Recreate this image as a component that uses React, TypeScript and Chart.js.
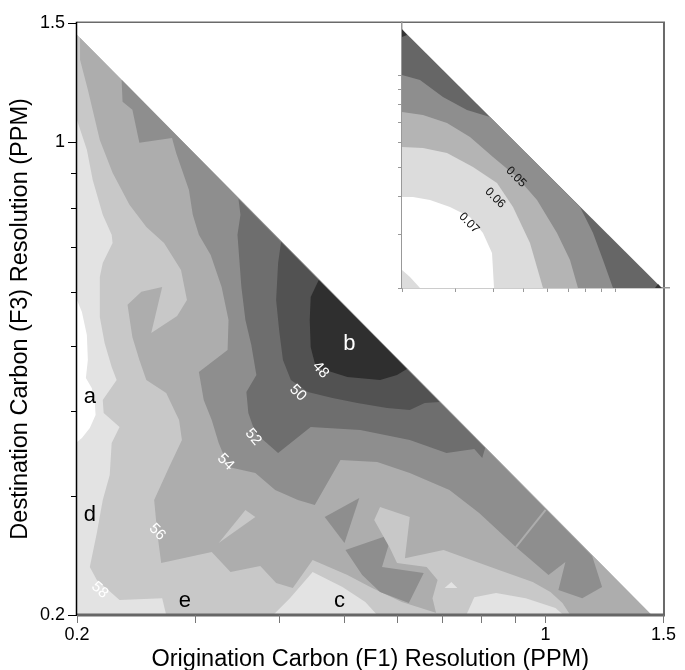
import React, { useEffect, useRef } from "react";
import { Chart, registerables } from "chart.js";

Chart.register(...registerables);

type Pt = [number, number];

const FONT = '"Liberation Sans", Arial, Helvetica, sans-serif';

// ---------- axes ----------
const axisMin = 0.2;
const axisMax = 1.5;
const tickValues = [0.2, 0.3, 0.4, 0.5, 0.6, 0.7, 0.8, 0.9, 1, 1.5];
const labeledTicks = [0.2, 1, 1.5];
const insetTickValues = [0.2, 0.3, 0.4, 0.5, 0.6, 0.7, 0.8, 0.9, 1];
const xTitle = "Origination Carbon (F1) Resolution (PPM)";
const yTitle = "Destination Carbon (F3) Resolution (PPM)";

// ---------- main contour regions (F1, F3 in PPM) ----------
const triangleMain: Pt[] = [[0.2, 0.2], [0.2, 1.44], [1.44, 0.2]];

const above60: Pt[] = [
  [0.2, 0.5843], [0.2034, 0.5609], [0.2069, 0.5187], [0.2076, 0.4764], [0.2062, 0.4479],
  [0.2104, 0.433], [0.2125, 0.4156], [0.2132, 0.3951], [0.209, 0.3779], [0.2034, 0.3652], [0.2, 0.3603],
];

const below58: Pt[] = [
  [0.2, 1.44], [0.2, 1.078], [0.2069, 0.9735], [0.2111, 0.8789], [0.2185, 0.7804], [0.2253, 0.729],
  [0.226, 0.7094], [0.2185, 0.6627], [0.2163, 0.6316], [0.2163, 0.5513], [0.2199, 0.5047], [0.2253, 0.465],
  [0.2292, 0.4449], [0.2185, 0.4156], [0.2192, 0.3978], [0.2315, 0.3791], [0.2253, 0.3591], [0.2238, 0.3221],
  [0.2185, 0.2957], [0.2141, 0.2644], [0.209, 0.2354], [0.2141, 0.2253], [0.2315, 0.2104], [0.268, 0.2118],
  [0.2717, 0.2], [1.44, 0.2],
];

const below56: Pt[] = [
  [0.2021, 1.4251], [0.2021, 1.3223], [0.2076, 1.194], [0.2163, 1.0071], [0.226, 0.9003], [0.2395, 0.8074],
  [0.2538, 0.7488], [0.2697, 0.7094], [0.2859, 0.647], [0.2918, 0.5843], [0.2821, 0.5531], [0.2581, 0.5222],
  [0.268, 0.6106], [0.2495, 0.6005], [0.2379, 0.5745], [0.2419, 0.5149], [0.2478, 0.4764], [0.2538, 0.4449],
  [0.2717, 0.4258], [0.284, 0.3883], [0.2868, 0.3628], [0.2745, 0.3309], [0.2607, 0.2957], [0.2635, 0.2644],
  [0.2671, 0.2387], [0.3177, 0.2478], [0.3389, 0.2315], [0.3754, 0.2362], [0.3964, 0.223], [0.4198, 0.2192],
  [0.4494, 0.2411], [0.5064, 0.2292], [0.5513, 0.2192], [0.6106, 0.209], [0.6879, 0.2014], [0.6995, 0.2],
  [1.44, 0.2],
];

const below54: Pt[] = [
  [0.2331, 1.2353], [0.2339, 1.1463], [0.2419, 1.1154], [0.2478, 0.997], [0.2772, 1.0139], [0.2811, 0.9637],
  [0.2938, 0.8495], [0.2977, 0.7804], [0.304, 0.729], [0.3166, 0.681], [0.3287, 0.6106], [0.3366, 0.5458],
  [0.3355, 0.4928], [0.304, 0.4573], [0.3091, 0.4156], [0.3177, 0.3883], [0.3254, 0.3591], [0.3366, 0.3309],
  [0.3691, 0.3243], [0.3951, 0.306], [0.4272, 0.2957], [0.4527, 0.2908], [0.4945, 0.3389], [0.5609, 0.3366],
  [0.6274, 0.3243], [0.719, 0.306], [0.7963, 0.283], [0.9033, 0.252], [1.0105, 0.2292], [1.0709, 0.2395],
  [1.0455, 0.2177], [1.1347, 0.2118], [1.2147, 0.2199], [1.174, 0.2444],
];

const below52: Pt[] = [
  [0.3483, 0.8239], [0.3507, 0.7804], [0.3471, 0.729], [0.3518, 0.6106], [0.3567, 0.5458], [0.364, 0.5013],
  [0.3704, 0.4527], [0.3579, 0.4272], [0.3603, 0.3978], [0.3691, 0.3716], [0.3991, 0.3471], [0.4464, 0.3791],
  [0.5293, 0.3754], [0.6274, 0.3628], [0.7118, 0.3471], [0.783, 0.3518], [0.8047, 0.3411], [0.8129, 0.353],
];

const below50: Pt[] = [
  [0.4032, 0.7118], [0.3991, 0.6627], [0.3964, 0.5843], [0.4005, 0.5275], [0.4058, 0.4764], [0.417, 0.4449],
  [0.442, 0.4272], [0.4811, 0.4184], [0.524, 0.4115], [0.5804, 0.4045], [0.6274, 0.4018], [0.6604, 0.4115],
  [0.6949, 0.4129],
];

const below48: Pt[] = [
  [0.4589, 0.6254], [0.4464, 0.5901], [0.4449, 0.5458], [0.4464, 0.4978], [0.4542, 0.465], [0.5064, 0.4494],
  [0.5665, 0.4449], [0.6005, 0.4527], [0.6212, 0.4619],
];

const island56a: Pt[] = [[0.3254, 0.2555], [0.3567, 0.2859], [0.3691, 0.2791]];
const island54a: Pt[] = [[0.4684, 0.2791], [0.5275, 0.2977], [0.5013, 0.2555]];
const island54b: Pt[] = [
  [0.503, 0.2495], [0.5901, 0.2635], [0.5703, 0.2354], [0.6582, 0.2308], [0.6254, 0.2083], [0.5665, 0.2163],
  [0.5328, 0.2292],
];
const island56b: Pt[] = [
  [0.5552, 0.2763], [0.5665, 0.2887], [0.6274, 0.2791], [0.617, 0.2427], [0.7046, 0.2495], [0.7619, 0.2427],
  [0.8523, 0.2331], [0.9572, 0.2238], [1.0172, 0.2163], [1.0601, 0.2083], [1.0889, 0.2], [0.6879, 0.2],
  [0.6783, 0.2118], [0.6903, 0.2253], [0.6649, 0.2354], [0.6005, 0.2387], [0.5862, 0.2511],
];
const island58a: Pt[] = [[0.3924, 0.2], [0.4156, 0.2118], [0.4494, 0.2315], [0.4979, 0.2199], [0.5385, 0.209], [0.5609, 0.2]];
const island58b: Pt[] = [[0.7619, 0.2], [0.783, 0.2125], [0.8438, 0.2156], [0.9345, 0.2118], [1.035, 0.2048], [1.0637, 0.2]];
const island58c: Pt[] = [[0.707, 0.2192], [0.7238, 0.2238], [0.7389, 0.2192]];
const gapLine56: Pt[] = [[1.0004, 0.2859], [0.9033, 0.252]];

// ---------- main annotations ----------
const contourLabelText = ["48", "50", "52", "54", "56", "58"];
const contourLabelX = [0.4619, 0.4272, 0.3664, 0.3332, 0.2635, 0.2163];
const contourLabelY = [0.4604, 0.4258, 0.3664, 0.3366, 0.2653, 0.2177];
const contourLabelAngle = [48, 45, 50, 45, 45, 42];

const letterText = ["a", "b", "c", "d", "e"];
const letterX = [0.209, 0.5098, 0.4928, 0.209, 0.2897];
const letterY = [0.42, 0.503, 0.2097, 0.2811, 0.2097];
const letterColor = ["#000000", "#ffffff", "#000000", "#000000", "#000000"];

// ---------- inset ----------
const insetTriangle: Pt[] = [[0.2, 0.2], [0.2, 1.42], [1.42, 0.2]];
const insetCornerA: Pt[] = [[0.2, 1.42], [0.2, 1.339], [0.2077, 1.359]];
const insetCornerB: Pt[] = [[1.3496, 0.2], [1.42, 0.2], [1.3806, 0.2062]];
const insetAbove04: Pt[] = [
  [0.2, 1.004], [0.2291, 0.9668], [0.2725, 0.85], [0.3266, 0.7702], [0.3885, 0.7305], [0.7663, 0.3694],
  [0.8454, 0.3034], [0.9116, 0.2473], [0.983, 0.2], [0.2, 0.2],
];
const insetAbove05: Pt[] = [
  [0.2, 0.7587], [0.2343, 0.7416], [0.2809, 0.698], [0.3341, 0.6277], [0.3974, 0.5395], [0.4763, 0.4636],
  [0.554, 0.3895], [0.6442, 0.3034], [0.7106, 0.2473], [0.7548, 0.2], [0.2, 0.2],
];
const insetAbove06: Pt[] = [
  [0.2, 0.582], [0.2343, 0.5776], [0.2809, 0.5561], [0.3418, 0.5002], [0.4096, 0.443], [0.4622, 0.3694],
  [0.5254, 0.2812], [0.5796, 0.2], [0.2, 0.2],
];
const insetAbove07: Pt[] = [
  [0.2, 0.3985], [0.2173, 0.3985], [0.2471, 0.3895], [0.2873, 0.3694], [0.3341, 0.3425], [0.3685, 0.3034],
  [0.3945, 0.2607], [0.4005, 0.2], [0.2291, 0.2], [0.2124, 0.2174], [0.2, 0.2292],
];
const insetLabelText = ["0.05", "0.06", "0.07"];
const insetLabelX = [0.4728, 0.4035, 0.3316];
const insetLabelY = [0.4636, 0.3955, 0.3272];

type Layer = { pts: Pt[]; color: string };

function layerDatasets(layers: Layer[]) {
  const n = layers.length;
  return layers.map((l, i) => ({
    data: l.pts.map(([x, y]) => ({ x, y })),
    fill: "shape",
    backgroundColor: l.color,
    borderColor: l.color,
    borderWidth: 0,
    pointRadius: 0,
    pointHoverRadius: 0,
    tension: 0,
    order: n - i + 1,
  }));
}

const mainLayers: Layer[] = [
  { pts: triangleMain, color: "#e3e3e3" },
  { pts: above60, color: "#ffffff" },
  { pts: below58, color: "#c8c8c8" },
  { pts: below56, color: "#adadad" },
  { pts: below54, color: "#8e8e8e" },
  { pts: below52, color: "#6e6e6e" },
  { pts: below50, color: "#525252" },
  { pts: below48, color: "#2f2f2f" },
  { pts: island56a, color: "#c8c8c8" },
  { pts: island54a, color: "#8e8e8e" },
  { pts: island54b, color: "#8e8e8e" },
  { pts: island56b, color: "#c8c8c8" },
  { pts: island58a, color: "#e3e3e3" },
  { pts: island58b, color: "#e3e3e3" },
  { pts: island58c, color: "#e3e3e3" },
];

const insetLayers: Layer[] = [
  { pts: insetTriangle, color: "#666666" },
  { pts: insetCornerA, color: "#333333" },
  { pts: insetCornerB, color: "#333333" },
  { pts: insetAbove04, color: "#8e8e8e" },
  { pts: insetAbove05, color: "#b4b4b4" },
  { pts: insetAbove06, color: "#dcdcdc" },
  { pts: insetAbove07, color: "#ffffff" },
];

const mainDecor = {
  id: "mainDecor",
  afterDatasetsDraw(chart: any) {
    const { ctx, scales } = chart;
    const xs = scales.x;
    const ys = scales.y;
    ctx.save();
    ctx.textAlign = "center";
    ctx.textBaseline = "middle";
    ctx.font = `15px ${FONT}`;
    ctx.fillStyle = "#ffffff";
    contourLabelText.forEach((t, i) => {
      ctx.save();
      ctx.translate(xs.getPixelForValue(contourLabelX[i]), ys.getPixelForValue(contourLabelY[i]));
      ctx.rotate((contourLabelAngle[i] * Math.PI) / 180);
      ctx.fillText(t, 0, 0);
      ctx.restore();
    });
    ctx.font = `22px ${FONT}`;
    letterText.forEach((t, i) => {
      ctx.fillStyle = letterColor[i];
      ctx.fillText(t, xs.getPixelForValue(letterX[i]), ys.getPixelForValue(letterY[i]));
    });
    ctx.restore();
  },
  afterDraw(chart: any) {
    const { ctx, chartArea, scales } = chart;
    const { left, right, top, bottom } = chartArea;
    ctx.save();
    ctx.strokeStyle = "#6a6a6a";
    ctx.lineWidth = 1.5;
    ctx.beginPath();
    ctx.moveTo(left, top - 0.5);
    ctx.lineTo(right + 1.5, top - 0.5);
    ctx.stroke();
    ctx.lineWidth = 2;
    ctx.beginPath();
    ctx.moveTo(right + 0.5, top - 0.5);
    ctx.lineTo(right + 0.5, bottom);
    ctx.stroke();
    ctx.strokeStyle = "#666666";
    ctx.lineWidth = 3;
    ctx.beginPath();
    ctx.moveTo(left, bottom);
    ctx.lineTo(right + 1.5, bottom);
    ctx.stroke();
    ctx.strokeStyle = "#000000";
    ctx.lineWidth = 1.5;
    ctx.beginPath();
    ctx.moveTo(left - 0.5, top - 1);
    ctx.lineTo(left - 0.5, bottom + 1);
    ctx.stroke();
    ctx.lineWidth = 1;
    tickValues.forEach((v) => {
      const major = labeledTicks.includes(v);
      const py = Math.round(scales.y.getPixelForValue(v)) + 0.5;
      ctx.strokeStyle = "#000000";
      ctx.beginPath();
      ctx.moveTo(left - (major ? 9 : 6), py);
      ctx.lineTo(left, py);
      ctx.stroke();
      const px = Math.round(scales.x.getPixelForValue(v)) + 0.5;
      ctx.strokeStyle = "#777777";
      ctx.beginPath();
      ctx.moveTo(px, bottom);
      ctx.lineTo(px, bottom + 8);
      ctx.stroke();
    });
    ctx.restore();
  },
};

const insetDecor = {
  id: "insetDecor",
  afterDatasetsDraw(chart: any) {
    const { ctx, scales } = chart;
    ctx.save();
    ctx.textAlign = "center";
    ctx.textBaseline = "middle";
    ctx.font = `12px ${FONT}`;
    ctx.fillStyle = "#111111";
    insetLabelText.forEach((t, i) => {
      ctx.save();
      ctx.translate(scales.x.getPixelForValue(insetLabelX[i]), scales.y.getPixelForValue(insetLabelY[i]));
      ctx.rotate((45 * Math.PI) / 180);
      ctx.fillText(t, 0, 0);
      ctx.restore();
    });
    ctx.restore();
  },
};

function mainConfig(): any {
  const tickCb = (v: number) => (labeledTicks.includes(v) ? String(v) : "");
  const setTicks = (s: any) => {
    s.ticks = tickValues.map((v) => ({ value: v }));
  };
  return {
    type: "line",
    data: {
      datasets: [
        ...layerDatasets(mainLayers),
        {
          data: gapLine56.map(([x, y]) => ({ x, y })),
          fill: false,
          borderColor: "#adadad",
          borderWidth: 2,
          pointRadius: 0,
          order: 0,
        },
      ],
    },
    options: {
      responsive: false,
      animation: false,
      devicePixelRatio: 1,
      events: [],
      layout: { padding: { left: 0, top: 22, right: 16, bottom: 0 } },
      plugins: { legend: { display: false }, tooltip: { enabled: false } },
      scales: {
        x: {
          type: "logarithmic",
          position: "bottom",
          min: axisMin,
          max: axisMax,
          afterBuildTicks: setTicks,
          afterFit: (s: any) => {
            s.height = 55;
          },
          grid: { display: false, drawTicks: false },
          border: { display: false },
          ticks: {
            callback: tickCb,
            autoSkip: false,
            maxRotation: 0,
            padding: 9,
            color: "#000000",
            font: { size: 18, family: FONT },
          },
          title: {
            display: true,
            text: xTitle,
            color: "#000000",
            font: { size: 23.5, family: FONT, lineHeight: 1 },
            padding: { top: 0, bottom: -1.5 },
          },
        },
        y: {
          type: "logarithmic",
          position: "left",
          min: axisMin,
          max: axisMax,
          afterBuildTicks: setTicks,
          afterFit: (s: any) => {
            s.width = 77;
          },
          grid: { display: false, drawTicks: false },
          border: { display: false },
          ticks: {
            callback: tickCb,
            autoSkip: false,
            padding: 12,
            color: "#000000",
            font: { size: 18, family: FONT },
          },
          title: {
            display: true,
            text: yTitle,
            color: "#000000",
            font: { size: 23.5, family: FONT, lineHeight: 1 },
            padding: { top: 8.5, bottom: 0 },
          },
        },
      },
    },
    plugins: [mainDecor],
  };
}

function insetConfig(): any {
  const setTicks = (s: any) => {
    s.ticks = insetTickValues.map((v) => ({ value: v }));
  };
  const grid = { display: true, drawOnChartArea: false, drawTicks: true, tickLength: 4, color: "#999999", lineWidth: 1 };
  const border = { display: true, color: "#999999", width: 1.5 };
  return {
    type: "line",
    data: { datasets: layerDatasets(insetLayers) },
    options: {
      responsive: false,
      animation: false,
      devicePixelRatio: 1,
      events: [],
      layout: { padding: { left: 392, top: 22, right: 16, bottom: 372 } },
      plugins: { legend: { display: false }, tooltip: { enabled: false } },
      scales: {
        x: {
          type: "logarithmic",
          position: "bottom",
          min: axisMin,
          max: axisMax,
          afterBuildTicks: setTicks,
          afterFit: (s: any) => {
            s.height = 10;
          },
          grid,
          border,
          ticks: { display: false },
        },
        y: {
          type: "logarithmic",
          position: "left",
          min: axisMin,
          max: axisMax,
          afterBuildTicks: setTicks,
          afterFit: (s: any) => {
            s.width = 10;
          },
          grid,
          border,
          ticks: { display: false },
        },
      },
    },
    plugins: [insetDecor],
  };
}

export default function App() {
  const mainRef = useRef<HTMLCanvasElement>(null);
  const insetRef = useRef<HTMLCanvasElement>(null);
  useEffect(() => {
    const main = new Chart(mainRef.current as HTMLCanvasElement, mainConfig());
    const inset = new Chart(insetRef.current as HTMLCanvasElement, insetConfig());
    return () => {
      main.destroy();
      inset.destroy();
    };
  }, []);
  return (
    <div style={{ position: "absolute", left: 0, top: 0, width: 685, height: 670, background: "#ffffff" }}>
      <canvas ref={mainRef} width={685} height={670} style={{ position: "absolute", left: 0, top: 0 }} />
      <canvas ref={insetRef} width={685} height={670} style={{ position: "absolute", left: 0, top: 0 }} />
    </div>
  );
}
